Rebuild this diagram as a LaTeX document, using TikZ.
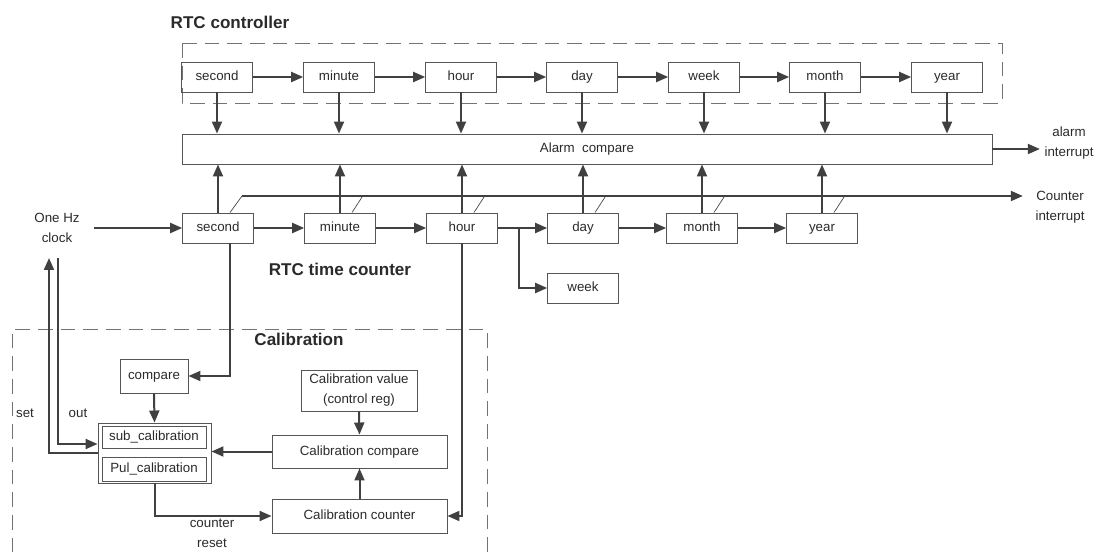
\documentclass[tikz,border=0pt]{standalone}
\usepackage{fontspec}
\setmainfont{Liberation Sans}
\usetikzlibrary{arrows.meta}

\definecolor{trait}{HTML}{404040}
\definecolor{cadre}{HTML}{555555}
\definecolor{texte}{HTML}{2A2A2A}

\tikzset{
  bloc/.style={draw=cadre, line width=0.7pt, minimum width=53pt, minimum height=22.5pt,
    inner sep=1pt, text height=7.4pt, text depth=2.1pt, text=texte,
    font=\fontsize{10}{15}\selectfont},
  fl/.style={draw=trait, line width=1.5pt, -{Triangle[length=9pt,width=7.5pt]}},
  tick/.style={draw=trait, line width=0.5pt},
  zone/.style={draw=black!55, line width=0.7pt, dash pattern=on 11pt off 6pt},
  titre/.style={text=texte, font=\bfseries\fontsize{12.8}{15}\selectfont},
  lbl/.style={text=texte, font=\fontsize{10}{15}\selectfont, align=center},
}

\begin{document}
\begin{tikzpicture}[x=0.75pt, y=-0.75pt]
    \useasboundingbox (0,0) rectangle (1108,556);

    % Zones
    \draw[zone] (182,43) rectangle (1002,103);
    \draw[zone] (12,575) -- (12,329) -- (487,329) -- (487,575);

    % Titres
    \node[titre] (tctrl) at (230,22) {RTC controller};
    \node[titre] (tcnt) at (340,269) {RTC time counter};
    \node[titre] (tcal) at (299,339) {Calibration};

    % RTC controller
    \node[bloc] (c1) at (217,77) {second};
    \node[bloc] (c2) at (339,77) {minute};
    \node[bloc] (c3) at (461,77) {hour};
    \node[bloc] (c4) at (582,77) {day};
    \node[bloc] (c5) at (704,77) {week};
    \node[bloc] (c6) at (825,77) {month};
    \node[bloc] (c7) at (947,77) {year};

    \draw[fl] (c1) -- (c2);
    \draw[fl] (c2) -- (c3);
    \draw[fl] (c3) -- (c4);
    \draw[fl] (c4) -- (c5);
    \draw[fl] (c5) -- (c6);
    \draw[fl] (c6) -- (c7);

    % Alarm compare
    \node[bloc, minimum width=607.5pt] (alarm) at (587,149) {Alarm~ compare};
    \node[lbl] (aint) at (1069,143) {alarm\\interrupt};
    \draw[fl] (alarm.east) -- (alarm.east -| aint.west);

    \draw[fl] (c1.south) -- (c1.south |- alarm.north);
    \draw[fl] (c2.south) -- (c2.south |- alarm.north);
    \draw[fl] (c3.south) -- (c3.south |- alarm.north);
    \draw[fl] (c4.south) -- (c4.south |- alarm.north);
    \draw[fl] (c5.south) -- (c5.south |- alarm.north);
    \draw[fl] (c6.south) -- (c6.south |- alarm.north);
    \draw[fl] (c7.south) -- (c7.south |- alarm.north);

    % RTC time counter
    \node[lbl] (clk) at (57,228) {One Hz\\clock};
    \node[bloc] (s1) at (218,228) {second};
    \node[bloc] (s2) at (340,228) {minute};
    \node[bloc] (s3) at (462,228) {hour};
    \node[bloc] (s4) at (583,228) {day};
    \node[bloc] (s5) at (702,228) {month};
    \node[bloc] (s6) at (822,228) {year};
    \node[bloc] (sw) at (583,288) {week};

    \draw[fl] ([xshift=7pt]clk.east) -- (s1.west);
    \draw[fl] (s1) -- (s2);
    \draw[fl] (s2) -- (s3);
    \draw[fl] (s3) -- (s4);
    \draw[fl] (s4) -- (s5);
    \draw[fl] (s5) -- (s6);
    \coordinate (emb) at (519,228);
    \draw[fl] (emb) |- (sw.west);

    \draw[fl] (s1.north) -- (s1.north |- alarm.south);
    \draw[fl] (s2.north) -- (s2.north |- alarm.south);
    \draw[fl] (s3.north) -- (s3.north |- alarm.south);
    \draw[fl] (s4.north) -- (s4.north |- alarm.south);
    \draw[fl] (s5.north) -- (s5.north |- alarm.south);
    \draw[fl] (s6.north) -- (s6.north |- alarm.south);

    % Counter interrupt
    \coordinate (cint) at (242,196);
    \node[lbl] (cintr) at (1060,207) {Counter\\interrupt};
    \draw[fl, shorten >=6pt] (cint) -- (cint -| cintr.west);
    \draw[tick] ([xshift=9pt]s1.north) -- (cint);
    \draw[tick] ([xshift=9pt]s2.north) -- ++(11,-17);
    \draw[tick] ([xshift=9pt]s3.north) -- ++(11,-17);
    \draw[tick] ([xshift=9pt]s4.north) -- ++(11,-17);
    \draw[tick] ([xshift=9pt]s5.north) -- ++(11,-17);
    \draw[tick] ([xshift=9pt]s6.north) -- ++(11,-17);

    % Calibration
    \node[bloc, minimum width=51pt, minimum height=25.5pt] (cmp) at (154,376) {compare};
    \node[bloc, minimum width=84.75pt, minimum height=45pt] (cal) at (154.5,453) {};
    \node[bloc, minimum width=78pt, minimum height=16.5pt] (sub) at (154,437) {sub\_calibration};
    \node[bloc, minimum width=78pt, minimum height=18pt] (pul) at (154,469) {Pul\_calibration};
    \node[bloc, minimum width=87pt, minimum height=30.75pt, text height=, text depth=, align=center] (cval) at (359,390.5) {Calibration value\\(control reg)};
    \node[bloc, minimum width=131.25pt, minimum height=24.75pt] (ccmp) at (359.5,451.5) {Calibration compare};
    \node[bloc, minimum width=131.25pt, minimum height=25.5pt] (ccnt) at (359.5,516) {Calibration counter};

    \draw[fl] ([xshift=9pt]s1.south) |- (cmp.east);
    \draw[fl] (cmp.south) -- (cal.north);
    \draw[fl] (cval.south) -- (ccmp.north);
    \draw[fl] (ccnt.north) -- (ccmp.south);
    \draw[fl] (ccmp.west) -- (ccmp.west -| cal.east);
    \draw[fl] (cal.south) |- (ccnt.west);
    \draw[fl] (s3.south) |- (ccnt.east);
    \node[lbl] (lrst) at (212,533) {counter\\reset};

    % set / out
    \coordinate (hset) at (49,258);
    \coordinate (hout) at (58,258);
    \draw[fl] (cal.west) -| (hset);
    \draw[fl] (hout) |- ([yshift=6.75pt]cal.west);
    \node[lbl] (lset) at (25,413) {set};
    \node[lbl] (lout) at (78,413) {out};

\end{tikzpicture}
\end{document}
